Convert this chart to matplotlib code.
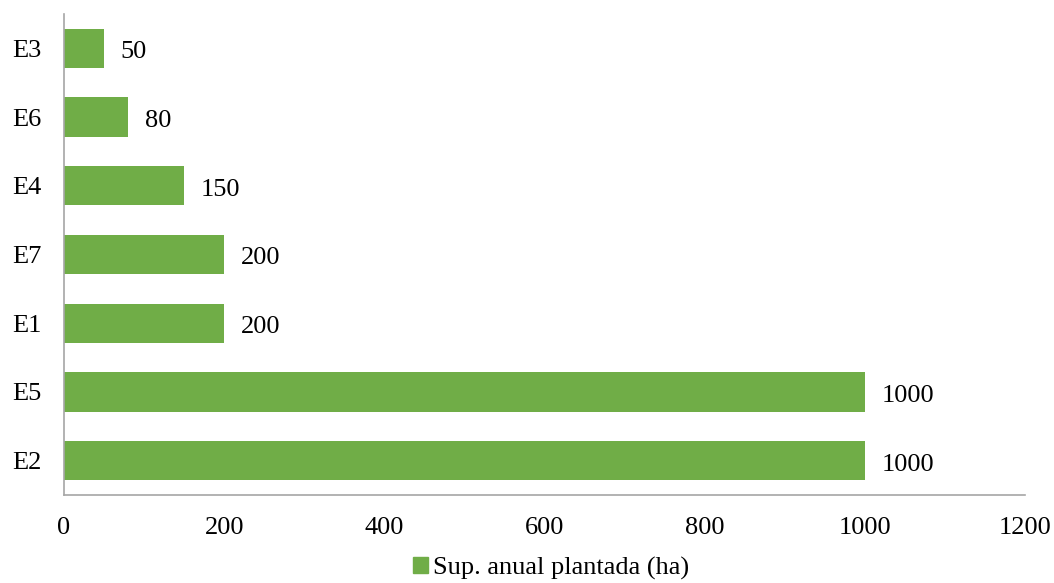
import matplotlib
matplotlib.use("Agg")
import matplotlib.pyplot as plt
from matplotlib.patches import Patch

# superficie anual plantada por empresa (orden de abajo hacia arriba)
empresas = ["E2", "E5", "E1", "E7", "E4", "E6", "E3"]
superficie = [1000, 1000, 200, 200, 150, 80, 50]
serie = "Sup. anual plantada (ha)"

VERDE = "#70AD47"
GRIS = "#A6A6A6"

plt.rcParams["font.family"] = ["Liberation Serif", "DejaVu Serif"]
plt.rcParams["font.size"] = 19

fig = plt.figure(figsize=(10.54, 5.83), dpi=100)
ax = fig.add_axes([64 / 1054, 1 - 495 / 583, (1025 - 64) / 1054, (495 - 14) / 583])

ypos = range(len(empresas))
ax.barh(ypos, superficie, height=0.57, color=VERDE, zorder=2)
for y, v in zip(ypos, superficie):
    ax.annotate(f"{v}", xy=(v, y), xytext=(12, -1), textcoords="offset points",
                va="center_baseline", ha="left")

ax.set_xlim(0, 1200)
ax.set_ylim(-0.5, len(empresas) - 0.5)
ax.set_xticks(range(0, 1201, 200))
ax.set_yticks(list(ypos))
ax.set_yticklabels(empresas)
ax.tick_params(axis="both", length=0, pad=16)

for side in ("top", "right"):
    ax.spines[side].set_visible(False)
for side in ("left", "bottom"):
    ax.spines[side].set_color(GRIS)
    ax.spines[side].set_linewidth(1.2)

fig.legend(handles=[Patch(color=VERDE, label=serie)], loc="center",
           bbox_to_anchor=(551 / 1054, 1 - 568 / 583), frameon=False,
           handlelength=0.55, handleheight=0.55, handletextpad=0.2)

fig.savefig("out.png", dpi=100)
plt.close(fig)
